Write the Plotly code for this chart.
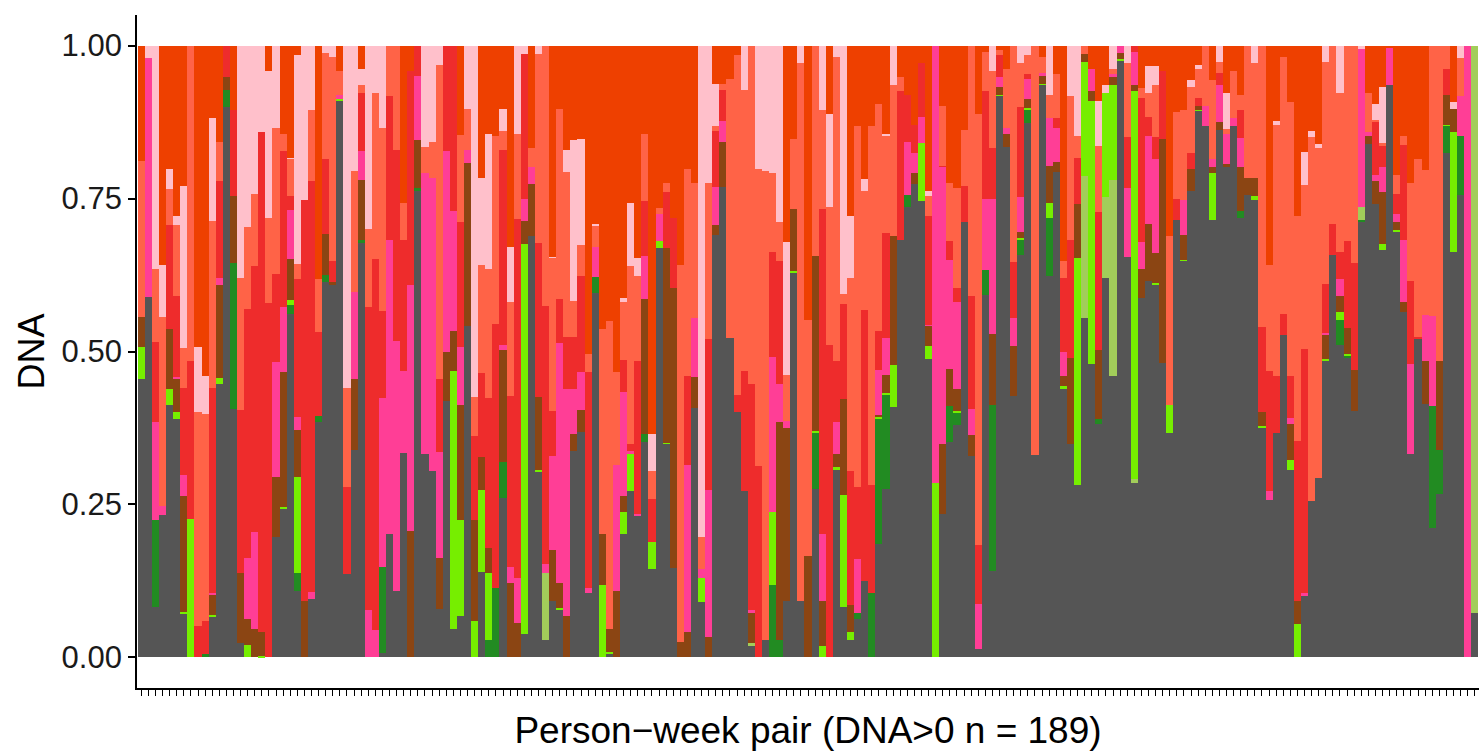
import plotly.graph_objects as go

# Stack order from bottom to top
category_names = ["Grey", "Dark green", "Light green", "Chartreuse", "Brown",
                  "Hot pink", "Red", "Tomato", "Pink", "Orange-red"]
category_colors = ["#555555", "#228B22", "#A2CD5A", "#76EE00", "#8B4513",
                   "#FF3E96", "#EE2C2C", "#FF6347", "#FFC0CB", "#EE4000"]

grey = [.455,.589,.082,.233,.413,.390,.072,0,0,0,
        .067,.447,.899,.406,.023,0,0,0,0,.197,
        .244,.561,.109,0,.096,.384,.613,.609,.910,.137,
        .339,.678,0,0,.007,.202,.109,.334,0,.763,
        .333,.304,.079,.419,.047,.072,.542,0,.140,0,
        0,.261,0,0,.038,.689,.304,.029,.093,.079,
        0,.338,.369,.106,.596,0,.007,0,.201,.272,
        .231,.352,.144,.669,.349,.146,0,0,.408,.090,
        0,.690,.769,.522,.401,.272,.018,0,.029,0,
        0,.093,.629,.093,0,.276,0,0,.307,.082,
        .029,.062,.125,0,.185,.276,.410,.683,.737,.773,
        .746,.488,0,.235,.352,.380,.711,.330,.013,.593,
        .142,.918,.834,.428,.658,.873,.331,.936,.623,.793,
        .439,.349,.281,.555,.480,.382,.620,.460,.975,.654,
        .285,.587,.616,.610,.481,.367,.715,.648,.762,.894,
        .868,.715,.862,.802,.869,.719,.756,.747,.376,.257,
        .367,.527,.307,0,.101,.256,.294,.486,.657,.510,
        .490,.402,.713,.839,.741,.666,.935,.696,.564,.333,
        .522,.415,.211,.267,.824,.663,.756,0,.073]

dark_green = [0,0,.143,0,0,0,0,0,0,.005,
              0,0,.029,.238,0,0,0,0,0,0,
              0,.015,.029,0,0,.011,.012,0,0,0,
              0,.005,0,0,.141,0,0,0,0,.005,
              0,0,0,0,0,0,0,0,0,.029,
              .114,.059,0,0,0,0,0,0,0,0,
              0,0,0,0,.026,0,0,0,0,0,
              0,.013,0,0,0,0,0,0,0,0,
              0,0,0,0,0,0,0,0,0,.118,
              .029,0,0,0,0,.092,0,0,0,0,
              0,.010,0,.106,.206,.154,0,0,.019,0,
              0,0,0,0,.059,.021,0,0,0,.041,
              .271,0,0,0,.025,.021,0,0,.096,0,
              0,0,0,0,0,.008,0,0,0,0,
              0,0,0,0,0,0,0,0,0,0,
              0,0,0,0,0,.010,0,0,0,0,
              0,0,0,0,0,0,0,0,0,.041,
              .004,0,.002,0,0,0,0,0,0,0,
              0,0,.200,.072,.045,0,.096,0,0]

light_green = [0,0,0,0,0,0,0,0,0,0,
               0,0,0,0,0,0,0,0,0,0,
               0,0,0,0,0,0,0,0,0,0,
               0,0,0,0,0,0,0,0,0,0,
               0,0,0,0,0,0,0,0,0,0,
               0,0,0,0,0,0,0,.109,0,0,
               0,0,0,0,0,0,0,0,0,0,
               0,0,0,0,0,0,0,0,0,0,
               0,0,0,0,0,0,.005,0,0,0,
               0,0,0,0,0,0,0,0,0,0,
               0,0,0,0,0,0,0,0,0,0,
               0,0,0,0,0,0,0,0,0,0,
               0,0,0,0,0,0,0,0,0,0,
               0,0,0,.232,0,0,.132,.320,0,0,
               .007,0,0,0,0,0,0,0,0,0,
               0,0,0,0,0,0,0,0,0,0,
               0,0,0,0,0,0,0,0,0,0,
               0,0,.021,0,0,0,0,0,0,0,
               0,0,0,0,0,0,0,0,.927]

chartreuse = [.052,0,0,0,.026,.011,.002,.227,0,0,
              .002,.010,0,0,0,.020,0,.003,0,0,
              .002,.008,.157,0,0,0,0,0,.003,0,
              0,0,0,0,0,0,0,0,0,0,
              0,0,0,0,.421,.165,0,.059,.134,.109,
              0,0,0,0,.638,0,.002,0,0,.002,
              0,0,0,0,0,.118,.002,0,.036,.061,
              0,0,.044,.011,.001,0,0,0,0,.039,
              0,0,0,0,0,0,0,0,0,.120,
              0,0,.002,0,0,.002,.018,0,.004,.184,
              .012,0,0,0,.002,.002,.068,0,0,0,
              .094,.021,.285,0,0,.002,0,0,0,0,
              0,.002,0,0,.002,.004,0,.002,.024,0,
              .005,0,.372,.187,.430,0,.171,.155,.003,0,
              .633,0,0,.002,0,.046,0,.002,0,.001,
              0,.076,0,0,0,0,0,.007,.002,0,
              0,0,.016,.055,0,0,0,.002,0,.013,
              .002,0,0,0,0,.010,0,.002,0,0,
              0,0,0,0,.002,.195,0,0,0]

brown = [.050,0,0,0,.097,.055,.190,0,0,0,
         .034,.152,.020,.110,.115,.042,.046,.039,0,.098,
         .221,.067,.076,.093,0,0,.067,.004,0,0,
         .116,.097,0,0,0,0,0,0,.207,.077,
         0,0,.084,.080,.065,.197,.266,.166,.053,.041,
         0,.183,.122,.057,.037,.084,.120,0,.083,.041,
         .068,.027,.035,0,0,.083,.037,.108,.027,0,
         0,.221,0,0,.319,.457,.025,.041,.050,0,
         .034,.016,.073,0,0,0,.050,0,0,0,
         .355,.282,.102,0,.165,.286,.075,0,.022,.157,
         .045,0,0,0,.004,.030,.211,0,0,.018,
         0,.033,0,.114,.060,.036,0,.034,0,0,
         .116,.012,.021,.081,.010,.014,0,.013,.061,.016,
         .016,.141,.088,.013,.015,.113,0,.014,.010,0,
         .010,.048,.092,.049,.366,0,0,.040,.036,.007,
         0,.011,.013,.005,0,.072,.027,.029,.023,0,
         0,0,.059,.038,0,0,0,.039,0,.026,
         .042,.068,0,.014,.037,.084,0,.013,.017,0,
         0,.069,0,.145,.048,.039,0,0,0]

hot_pink = [0,.391,.160,.015,0,.002,.034,0,0,0,
            .002,.011,0,0,0,.101,.159,0,0,.188,
            .106,.080,.022,0,.011,0,0,0,.006,0,
            .142,.047,.077,.044,.276,.481,.408,.134,.402,.106,
            .458,.479,.173,.328,.197,.099,.021,0,0,0,
            0,.007,.026,.072,.037,.028,0,.015,.154,.392,
            .371,.074,.063,.008,.048,0,0,.207,.170,.004,
            .004,.070,0,.044,0,0,0,.274,.096,.016,
            .240,.063,.034,0,0,0,.004,0,0,.253,
            .063,.012,0,0,0,0,.109,0,.052,0,
            0,.089,0,0,.073,.060,0,0,.087,.032,
            .044,.001,.715,.454,.179,.142,0,.042,.075,.115,
            .221,.016,.010,.046,.057,.034,0,.004,.078,.056,
            .039,0,0,0,.036,0,0,.004,.012,.113,
            .055,.044,.144,.154,0,0,0,.057,0,0,
            .033,.012,.060,.049,.013,.048,0,0,0,.015,
            0,0,.009,0,.004,0,0,.003,0,.028,
            0,0,.258,.005,.011,.042,.062,.013,.102,.147,
            0,.076,.147,0,0,0,.066,1.0,0]

red = [0,0,.131,0,.170,.132,.142,.257,.051,.055,
       .335,.158,.052,.141,.266,.407,.435,.816,.579,.143,
       .254,.023,.225,.654,.671,.137,.123,.035,0,.142,
       0,.096,.496,.607,.142,.234,.312,.214,.349,.049,
       0,0,.119,.173,.270,.216,0,.137,.138,.245,
       .431,.319,.279,.587,.237,0,.251,.421,.073,.072,
       .084,.084,.156,.353,0,0,0,0,.052,.012,
       .249,.090,.071,0,.091,.116,0,.145,0,0,
       .246,.091,.052,0,.029,.196,.370,.313,0,.172,
       .201,0,0,0,0,0,.531,.510,.099,.154,
       .219,.117,.443,.176,.063,.171,0,.242,.077,.047,
       .088,.179,0,.001,.030,.022,.059,.184,.095,.176,
       .082,.036,0,.091,.147,.008,0,0,0,.017,
       .121,.192,.076,0,0,.225,0,0,0,.083,
       .010,.236,.032,.035,.112,0,.035,0,.026,.012,
       0,0,.021,0,0,.046,0,0,.139,.196,
       .093,.034,.069,.261,.399,0,0,.080,.051,.045,
       .142,.174,0,0,.087,.034,0,.033,.154,.136,
       .002,0,0,0,.043,0,0,0,0]

tomato = [.254,0,.119,.309,.059,.116,.066,.516,.350,.338,
          .273,.064,0,0,.216,.134,.117,0,.140,.240,
          .028,.062,.025,0,.116,.086,.173,.334,.040,.161,
          .198,.013,.127,.272,.299,.083,.171,.061,0,0,
          .043,.059,.513,0,0,.150,.068,.064,.176,.211,
          .307,.031,.154,.140,0,.031,.310,.426,.250,.311,
          .270,.060,.051,.029,.036,.335,.504,.152,.095,.291,
          .139,.110,.046,.010,.016,0,.616,.338,.222,.051,
          .255,.009,.009,.424,.555,.459,.553,.486,.766,.128,
          .063,.075,.114,.879,.386,.344,.162,.227,.498,.017,
          .315,.590,.195,.586,.371,.159,.247,.024,0,0,
          0,.032,0,.098,.095,.164,.092,.410,.706,.065,
          .126,.008,.096,.354,.073,.031,.669,.027,.038,.071,
          .028,.235,.035,.013,0,.108,0,.009,0,.121,
          0,.015,.039,.086,0,.276,.142,.148,.109,.047,
          .099,.129,.018,.007,.076,.024,.217,.188,.460,.173,
          .411,.421,.447,.368,.268,.594,.538,.364,.292,.259,
          .320,.356,0,.064,.003,.004,0,.032,.016,.160,
          .291,.236,.442,.516,.038,0,.061,0,0]

pink = [0,.020,.365,.084,.034,.015,.264,0,.106,.062,
        .168,0,0,0,.380,.296,.243,.142,.240,.134,
        0,.001,.341,.253,.106,0,.012,.018,0,.560,
        .205,.026,.300,.077,.135,0,0,0,0,0,
        .166,.158,.032,0,0,0,.103,.574,.142,.220,
        0,.037,.089,.144,.013,0,.013,0,.002,0,
        .037,.262,.173,0,.002,0,0,0,.006,.103,
        .030,0,.060,0,0,0,0,0,0,.804,
        .225,.069,0,0,0,.073,0,.201,.205,.209,
        .289,.217,0,.028,0,0,.105,.152,.018,.406,
        .101,0,.019,0,0,.004,.064,0,0,0,
        0,.008,0,0,0,0,0,0,0,0,
        .042,0,0,0,.028,.015,0,0,.080,0,
        0,.083,.148,0,0,.074,.012,.038,0,.029,
        0,0,.044,.030,0,0,0,0,.010,.008,
        0,0,.026,.060,0,0,0,.029,0,0,
        .005,0,0,0,.054,.010,.007,.026,0,.078,
        0,0,.006,0,.025,.093,0,0,0,0,
        0,0,0,0,0,.010,.021,0,0]

orange_red = [.189,0,0,.359,.201,.279,.230,0,.493,.540,
              .119,.158,0,.105,0,0,0,0,.041,0,
              .145,.183,.016,0,0,.382,0,0,.041,0,
              0,.038,0,0,0,0,0,.257,.042,0,
              0,0,0,0,0,.153,0,0,.217,.145,
              .148,.103,.330,0,0,.168,0,0,.345,.103,
              .170,.155,.153,.504,.292,.464,.450,.533,.413,.257,
              .347,.144,.635,.266,.224,.281,.359,.202,.224,0,
              0,.062,.063,.054,.016,0,0,0,0,0,
              0,.321,.153,0,.449,0,0,.111,0,0,
              .279,.132,.218,.132,.096,.144,0,.051,.080,.129,
              .028,.238,0,.098,.225,.233,.138,0,.111,.010,
              0,.008,.039,0,0,0,0,.018,0,.047,
              .352,0,0,0,.039,.090,.065,0,0,0,
              0,.070,.033,.034,.041,.311,.108,.105,.057,.031,
              0,.057,0,.077,.042,.081,0,0,0,.359,
              .124,.018,.093,.278,.174,.140,.161,0,0,0,
              0,0,0,.078,.096,.067,.003,.211,.147,.224,
              .185,.204,0,0,0,.093,0,0,0]

series = [grey, dark_green, light_green, chartreuse, brown,
          hot_pink, red, tomato, pink, orange_red]

n_bars = len(grey)
pairs = list(range(1, n_bars + 1))

y_ticks = [0, 0.25, 0.5, 0.75, 1.0]
y_tick_labels = ["0.00", "0.25", "0.50", "0.75", "1.00"]

fig = go.Figure()
for name, color, vals in zip(category_names, category_colors, series):
    fig.add_trace(go.Bar(x=pairs, y=vals, name=name, width=1.0,
                         marker=dict(color=color, line=dict(width=0)),
                         hoverinfo="x+y+name"))

font_family = "Liberation Sans, Arial, sans-serif"

fig.update_layout(
    width=1479, height=753,
    margin=dict(l=137, r=0, t=15, b=65),
    barmode="stack", barnorm="fraction", bargap=0,
    showlegend=False,
    plot_bgcolor="white", paper_bgcolor="white",
    font=dict(family=font_family, color="black"),
)

fig.update_xaxes(
    range=[0.4, n_bars + 0.6],
    tickmode="array", tickvals=pairs, ticktext=[""] * n_bars,
    ticks="outside", ticklen=6, tickwidth=1.3, tickcolor="black",
    showline=True, linecolor="black", linewidth=1.8,
    showgrid=False, zeroline=False,
    title=dict(text="Person\u2212week pair (DNA>0 n = 189)",
               font=dict(size=37, color="black"), standoff=20),
)

fig.update_yaxes(
    range=[-0.05, 1.05],
    tickmode="array", tickvals=y_ticks, ticktext=y_tick_labels,
    ticks="outside", ticklen=7, tickwidth=1.5, tickcolor="black",
    tickfont=dict(size=31, color="#1a1a1a"),
    showline=True, linecolor="black", linewidth=1.8,
    showgrid=False, zeroline=False,
    title=dict(text="DNA", font=dict(size=36, color="black"), standoff=6),
)

fig.write_html("out.html")
